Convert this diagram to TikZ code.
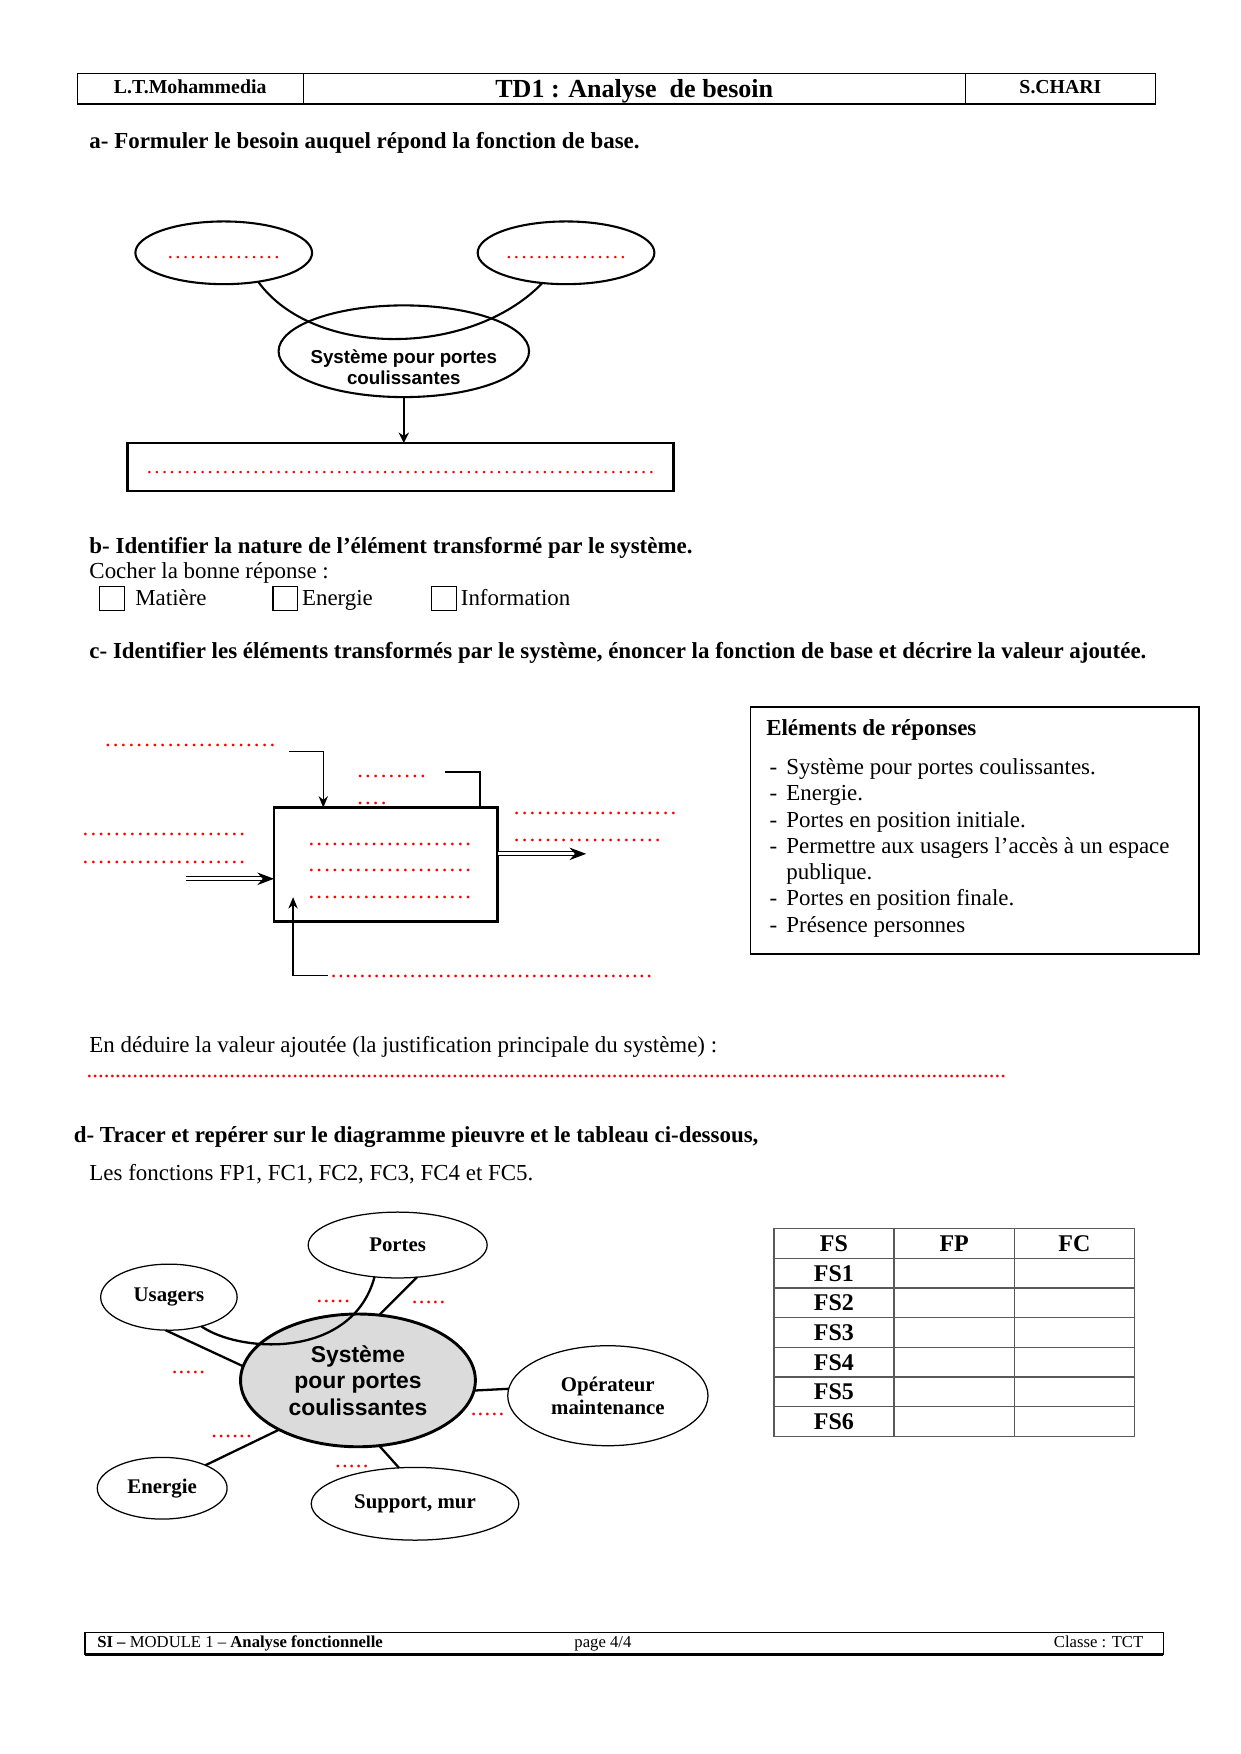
\documentclass[tikz,border=0pt]{standalone}
\usepackage{fontspec}
\setmainfont{Liberation Serif}
\newfontfamily\arial{Liberation Sans}
\usetikzlibrary{shapes.geometric}
\usetikzlibrary{arrows.meta}
\definecolor{fondgris}{gray}{0.86}
\definecolor{traitgris}{gray}{0.35}
\newcommand{\pointilles}[2][3.6]{{\color{red}\hbox to #2\dimexpr#1pt\relax{\leaders\hbox to #1pt{\hss.\hss}\hfill}}}
\tikzset{every node/.style={inner sep=0pt, outer sep=0pt},
    texte/.style={anchor=base west, font=\fontsize{11}{12.6}\selectfont},
    titre/.style={anchor=base west, font=\fontsize{11}{12.6}\selectfont\bfseries},
    entete/.style={anchor=base, font=\fontsize{9.5}{11}\selectfont\bfseries},
    piedpage/.style={anchor=base, font=\fontsize{8}{9}\selectfont},
    rouge/.style={anchor=base west, font=\fontsize{11}{12.6}\selectfont},
    bulle/.style={ellipse, draw, line width=1pt, text height=5pt, text depth=0pt},
    bulleP/.style={ellipse, draw, line width=.6pt, align=center, font=\fontsize{10}{11.2}\selectfont\bfseries},
    case/.style={draw, line width=.6pt, minimum size=11.8pt},
    fleche/.style={line width=.7pt, -{Stealth[length=5.5pt,width=4.5pt]}},
    trait/.style={line width=.7pt},
    flechedouble/.style={double, double distance=1.3pt, line width=.6pt, -{Stealth[length=8pt,width=6pt]}},
    liaison/.style={line width=1.1pt},
    tableau/.style={font=\fontsize{11.5}{13}\selectfont\bfseries}}
\begin{document}
\begin{tikzpicture}[x=0.5368pt, y=-0.5368pt]
    \useasboundingbox (0,0) rectangle (1109,1568);

    \draw[line width=.6pt] (69,66) rectangle (1033,93);
    \draw[line width=.6pt] (271,66) -- (271,93);
    \draw[line width=.6pt] (863,66) -- (863,93);
    \node[entete] (lycee) at (170,83.5) {L.T.Mohammedia};
    \node[entete, font=\fontsize{12.5}{14}\selectfont\bfseries] (td) at (567,87) {TD1 : Analyse\ \ de besoin};
    \node[entete] (prof) at (948,83.5) {S.CHARI};

    \node[titre] (questionA) at (80,132.5) {a- Formuler le besoin auquel répond la fonction de base.};

    \node[bulle, minimum width=84.8pt, minimum height=30.1pt] (besoinG) at (200,226) {\pointilles[3.65]{15}};
    \node[bulle, minimum width=84.8pt, minimum height=30.1pt] (besoinD) at (506,226) {\pointilles[3.65]{16}};
    \node[bulle, minimum width=120.2pt, minimum height=44pt, text height=, text depth=, label={[align=center, yshift=-7.5pt, font=\arial\bfseries\fontsize{9}{10.1}\selectfont]center:Système pour portes\\coulissantes}] (sysA) at (361,314) {};
    \node[draw, line width=1pt, minimum width=262pt, minimum height=23.1pt, text height=6pt, text depth=0pt] (besoinbox) at (358,417.5) {\pointilles[3.65]{67}};
    \draw[line width=1pt] (besoinG.-40) .. controls (280,320) and (420,320) .. (besoinD.-128);
    \draw[line width=.9pt, -{Stealth[length=5pt,width=5pt]}] (sysA.south) -- (sysA.south |- besoinbox.north);

    \node[titre] (questionB) at (80,494.5) {b- Identifier la nature de l’élément transformé par le système.};
    \node[texte] (cocher) at (80,517.5) {Cocher la bonne réponse :};
    \node[case] (case1) at (100,535) {};
    \node[texte] (matiere) at (121,541.5) {Matière};
    \node[case] (case2) at (255,535) {};
    \node[texte] (energieB) at (270,541.5) {Energie};
    \node[case] (case3) at (397,535) {};
    \node[texte] (information) at (412,541.5) {Information};

    \node[titre] (questionC) at (80,588.5) {c- Identifier les éléments transformés par le système, énoncer la fonction de base et décrire la valeur ajoutée.};

    \node[draw, line width=1.4pt, minimum width=107.4pt, minimum height=54.8pt] (boite) at (345,773) {};
    \coordinate (E1) at (258,672);
    \coordinate (E2) at (289,672);
    \coordinate (E3) at (398,690);
    \coordinate (E4) at (429,690);
    \coordinate (E5) at (293,872);
    \coordinate (E6) at (262,872);
    \coordinate (E7) at (262,802);
    \coordinate (E8) at (166,785.6);
    \coordinate (E9) at (524,763.3);
    \draw[fleche] (E1) -- (E2) -- (E2 |- boite.north);
    \draw[trait] (E3) -- (E4) -- (E4 |- boite.north);
    \draw[fleche] (E5) -- (E6) -- (E7);
    \draw[flechedouble] (E8) -- (E8 -| boite.west);
    \draw[flechedouble] (E9 -| boite.east) -- (E9);
    \node[rouge] (p1) at (93,667) {\pointilles[3.76]{22}};
    \node[rouge] (p2) at (318.5,695) {\pointilles[3.76]{9}};
    \node[rouge] (p3) at (318.5,719) {\pointilles[3.76]{4}};
    \node[rouge] (p4) at (458.5,728) {\pointilles[3.76]{21}};
    \node[rouge] (p5) at (458.5,752) {\pointilles[3.76]{19}};
    \node[rouge] (p6) at (73,747) {\pointilles[3.76]{21}};
    \node[rouge] (p7) at (73,772) {\pointilles[3.76]{21}};
    \node[rouge] (p8) at (275,755.6) {\pointilles[3.76]{21}};
    \node[rouge] (p9) at (275,779) {\pointilles[3.76]{21}};
    \node[rouge] (p10) at (275,803) {\pointilles[3.76]{21}};
    \node[rouge] (p11) at (295.2,874) {\pointilles[3.44]{45}};

    \draw[line width=.8pt] (671,632) rectangle (1072,853);
    \node[titre] (reponses) at (685,657.5) {Eléments de réponses};
    \node[texte] (liste) at (688,692.5) {\begin{tabular}[t]{@{}l@{\hspace{4.4pt}}l@{}}
        - & Système pour portes coulissantes.\\
        - & Energie.\\
        - & Portes en position initiale.\\
        - & Permettre aux usagers l’accès à un espace\\
          & publique.\\
        - & Portes en position finale.\\
        - & Présence personnes
    \end{tabular}};

    \node[texte] (deduire) at (80,940.5) {En déduire la valeur ajoutée (la justification principale du système) :};
    \node[rouge] (valeur) at (77.5,963) {\pointilles[2.74]{161}};

    \node[titre] (questionD) at (66,1021.5) {d- Tracer et repérer sur le diagramme pieuvre et le tableau ci-dessous,};
    \node[texte] (fonctions) at (80,1055.5) {Les fonctions FP1, FC1, FC2, FC3, FC4 et FC5.};

    \node[ellipse, draw, fill=fondgris, line width=1.4pt, minimum width=112.7pt, minimum height=63.7pt, align=center, font=\arial\bfseries\fontsize{11}{12.7}\selectfont] (sys) at (320,1234) {Système\\pour portes\\coulissantes};
    \node[bulleP, minimum width=85.9pt, minimum height=31.6pt] (portes) at (355.5,1113) {Portes};
    \node[bulleP, minimum width=65.5pt, minimum height=31.7pt] (usagers) at (151,1159.6) {Usagers};
    \node[bulleP, minimum width=96.1pt, minimum height=48pt] (operateur) at (543.4,1247.7) {Opérateur\\maintenance};
    \node[bulleP, minimum width=62.3pt, minimum height=29.6pt] (energie) at (145,1330.4) {Energie};
    \node[bulleP, minimum width=99.6pt, minimum height=34.9pt] (support) at (371,1344.3) {Support, mur};
    \draw[liaison] (usagers.-42) .. controls (215,1210) and (315,1215) .. (portes.-126);
    \draw[liaison] (portes.-59) -- (sys.72);
    \draw[liaison] (usagers.-96) -- (sys.173);
    \draw[liaison] (sys.-5) -- (operateur.176);
    \draw[liaison] (energie.28) -- (sys.-148);
    \draw[liaison] (sys.-72) -- (support.114);
    \node[rouge] (q1) at (282.5,1164) {\pointilles[3.33]{5}};
    \node[rouge] (q2) at (367.7,1165) {\pointilles[3.33]{5}};
    \node[rouge] (q3) at (153,1228) {\pointilles[3.33]{5}};
    \node[rouge] (q4) at (420.3,1265) {\pointilles[3.33]{5}};
    \node[rouge] (q5) at (188.5,1285) {\pointilles[3.33]{6}};
    \node[rouge] (q6) at (299,1312) {\pointilles[3.33]{5}};

    \draw[traitgris, line width=.7pt] (692,1098) rectangle (1014,1284);
    \draw[traitgris, line width=.7pt] (799,1098) -- (799,1284);
    \draw[traitgris, line width=.7pt] (907,1098) -- (907,1284);
    \draw[traitgris, line width=.7pt] (692,1125) -- (1014,1125);
    \draw[traitgris, line width=.7pt] (692,1151.5) -- (1014,1151.5);
    \draw[traitgris, line width=.7pt] (692,1178) -- (1014,1178);
    \draw[traitgris, line width=.7pt] (692,1204.5) -- (1014,1204.5);
    \draw[traitgris, line width=.7pt] (692,1231) -- (1014,1231);
    \draw[traitgris, line width=.7pt] (692,1257.5) -- (1014,1257.5);
    \node[tableau] (fs) at (745.5,1111.5) {FS};
    \node[tableau] (fp) at (853,1111.5) {FP};
    \node[tableau] (fc) at (960.5,1111.5) {FC};
    \node[tableau] (fs1) at (745.5,1138.3) {FS1};
    \node[tableau] (fs2) at (745.5,1164.8) {FS2};
    \node[tableau] (fs3) at (745.5,1191.3) {FS3};
    \node[tableau] (fs4) at (745.5,1217.8) {FS4};
    \node[tableau] (fs5) at (745.5,1244.3) {FS5};
    \node[tableau] (fs6) at (745.5,1270.8) {FS6};

    \draw[line width=.5pt] (76,1459) rectangle (1040,1479);
    \draw[line width=1.2pt] (76,1479) -- (1040,1479);
    \node[piedpage, anchor=base west] (module) at (87,1472.5) {\textbf{SI –} MODULE 1 – \textbf{Analyse fonctionnelle}};
    \node[piedpage] (page) at (539,1472.5) {page 4/4};
    \node[piedpage, anchor=base east] (classe) at (1022,1472.5) {Classe : TCT};
\end{tikzpicture}
\end{document}
